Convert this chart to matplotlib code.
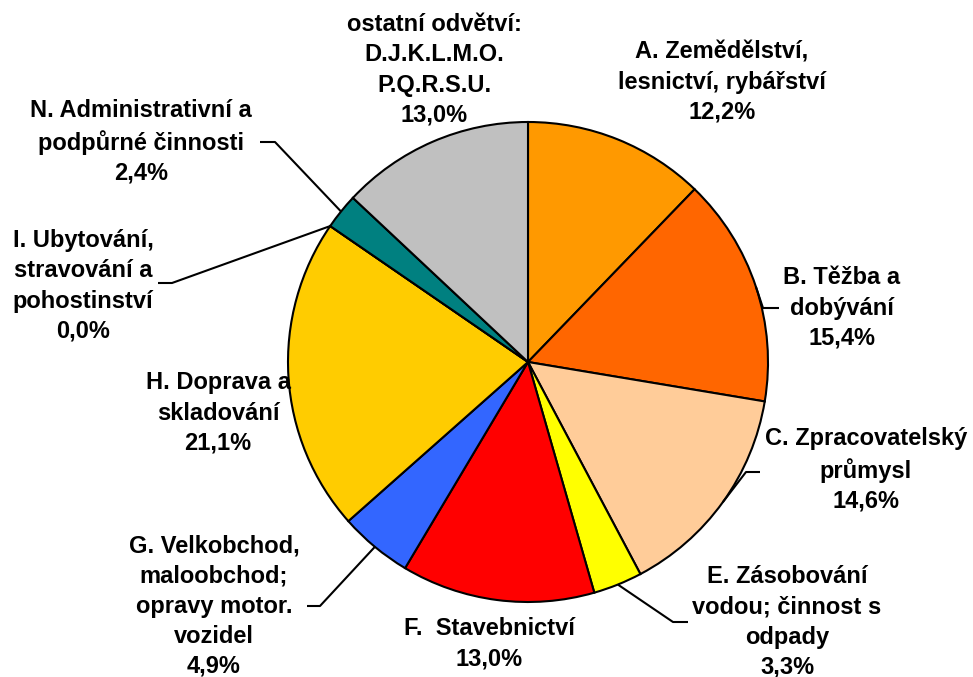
import numpy as np
import matplotlib.pyplot as plt

labels = ["A. Zemědělství,\nlesnictví, rybářství",
          "B. Těžba a\ndobývání",
          "C. Zpracovatelský\nprůmysl",
          "E. Zásobování\nvodou; činnost s\nodpady",
          "F.  Stavebnictví",
          "G. Velkobchod,\nmaloobchod;\nopravy motor.\nvozidel",
          "H. Doprava a\nskladování",
          "I. Ubytování,\nstravování a\npohostinství",
          "N. Administrativní a\npodpůrné činnosti",
          "ostatní odvětví:\nD.J.K.L.M.O.\nP.Q.R.S.U."]
values = [12.2, 15.4, 14.6, 3.3, 13.0, 4.9, 21.1, 0.0, 2.4, 13.0]
colors = ["#FF9900", "#FF6600", "#FFCC99", "#FFFF00", "#FF0000",
          "#3366FF", "#FFCC00", "#33CCCC", "#008080", "#C0C0C0"]

W, H = 973, 677
cx, cy, r = 528, H - 362, 240

# label centres in pixel coords (y from top)
label_pos = [(722, 82), (842, 308), (866, 470), (787, 622), (489, 644),
             (214, 606), (218, 413), (83, 286), (141, 142), (434, 70)]
# leader lines: (outer end, elbow) in pixel coords, None = no line
leaders = [None, ((779, 308), (763, 308)), ((760, 472), (746, 472)),
           ((688, 622), (673, 622)), None, ((307, 606), (320, 606)), None,
           ((158, 283), (172, 283)), ((260, 142), (275, 142)), None]

fig = plt.figure(figsize=(W / 100, H / 100), dpi=100)
ax = fig.add_axes([0, 0, 1, 1])

wedges, _ = ax.pie(values, colors=colors, startangle=90, counterclock=False,
                   center=(cx, cy), radius=r,
                   wedgeprops=dict(edgecolor='black', linewidth=1.5))
ax.set_xlim(0, W)
ax.set_ylim(0, H)
ax.set_aspect('equal')
ax.axis('off')

for w, lab, val, pos, ld in zip(wedges, labels, values, label_pos, leaders):
    txt = lab + "\n" + f"{val:.1f}%".replace(".", ",")
    ax.text(pos[0], H - pos[1], txt, ha='center', va='center',
            fontsize=17, fontweight='bold', family='Liberation Sans',
            linespacing=1.4)
    if ld is not None:
        mid = np.deg2rad((w.theta1 + w.theta2) / 2)
        ex, ey = cx + r * np.cos(mid), cy + r * np.sin(mid)
        (x0, y0), (x1, y1) = ld
        ax.plot([x0, x1, ex], [H - y0, H - y1, ey], color='black', lw=1.5,
                solid_capstyle='butt')

fig.savefig("out.png", dpi=100)
